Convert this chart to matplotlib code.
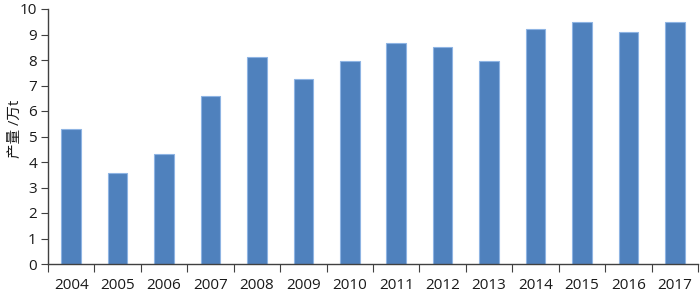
import matplotlib.pyplot as plt
import numpy as np

plt.rcParams['font.family'] = ['Open Sans', 'Noto Sans CJK SC', 'DejaVu Sans']

years = ["2004", "2005", "2006", "2007", "2008", "2009", "2010",
         "2011", "2012", "2013", "2014", "2015", "2016", "2017"]
output = [5.3, 3.55, 4.3, 6.6, 8.1, 7.25, 7.95,
          8.65, 8.5, 7.95, 9.2, 9.5, 9.1, 9.5]

fig = plt.figure(figsize=(7, 2.98), dpi=100)
ax = fig.add_axes([48/700, 1-264/298, 650/700, 255/298])

x = np.arange(len(years))
ax.bar(x, output, width=0.42, color="#4F81BD", edgecolor="#8EB4E3", linewidth=0.8, zorder=2)

ax.set_xlim(-0.5, len(years) - 0.5)
ax.set_ylim(0, 10)
ax.set_yticks(range(0, 11))

# ticks at category boundaries, labels centred under bars
ax.set_xticks(np.arange(-0.5, len(years), 1.0))
ax.set_xticklabels([])
ax.set_xticks(x, minor=True)
ax.set_xticklabels(years, minor=True)
ax.tick_params(axis='x', which='major', length=6, direction='out', color='#404040')
ax.tick_params(axis='x', which='minor', length=0, pad=10, labelsize=11, labelcolor='#1a1a1a')
ax.tick_params(axis='y', length=5, direction='out', color='#404040', pad=3,
               labelsize=11, labelcolor='#1a1a1a')

for s in ['top', 'right']:
    ax.spines[s].set_visible(False)
for s in ['left', 'bottom']:
    ax.spines[s].set_color('#404040')
    ax.spines[s].set_linewidth(1.0)

ax.set_ylabel("产量 /万t", fontsize=10.5, color='#1a1a1a')
ax.yaxis.set_label_coords(-0.038, 0.53)

fig.savefig("out.png", dpi=100)
